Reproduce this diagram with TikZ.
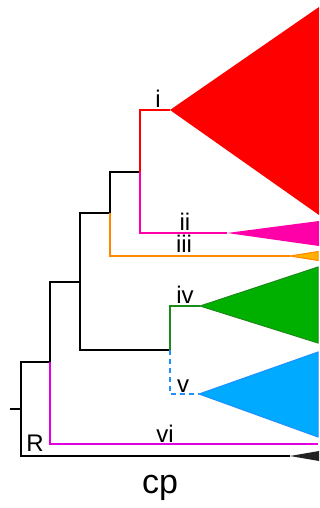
\documentclass[tikz,border=0pt]{standalone}
\usepackage{fontspec}
\setmainfont{Liberation Sans}
\definecolor{cred}{HTML}{FF0000}
\definecolor{cpink}{HTML}{FF00A8}
\definecolor{corange}{HTML}{FF8800}
\definecolor{cyellow}{HTML}{FFB000}
\definecolor{cgreenf}{HTML}{00B000}
\definecolor{cgreen}{HTML}{1A8A1A}
\definecolor{cbluef}{HTML}{00AAFF}
\definecolor{cblue}{HTML}{1E90FF}
\definecolor{cmag}{HTML}{E000E0}
\definecolor{cdark}{HTML}{222222}
\begin{document}
\begin{tikzpicture}[x=1pt,y=-1pt,
  br/.style={line width=1.8pt},
  lab/.style={anchor=base,inner sep=0pt,font=\fontsize{24}{24}\selectfont},
  clade/.style={line width=1pt}]
\useasboundingbox (0,0) rectangle (320,508);
% branch points
\coordinate (s0) at (10,409);
\coordinate (r) at (21,409);
\coordinate (n1) at (50,362);
\coordinate (n2) at (80,282);
\coordinate (n3) at (110,213);
\coordinate (n4) at (170,350);
\coordinate (n5) at (140,172);
% apices
\coordinate (ai) at (170,110);
\coordinate (aii) at (227,233);
\coordinate (aiii) at (290,256);
\coordinate (aiv) at (200,306);
\coordinate (av) at (199,394);
\coordinate (avi) at (318,444);
\coordinate (acp) at (290,456);
% triangles
\fill[cred] (ai) -- (319,7) -- (319,215) -- cycle;
\fill[cpink] (aii) -- (319,221) -- (319,246) -- cycle;
\filldraw[clade,fill=cyellow,draw=corange] (aiii) -- (318,251.5) -- (318,260.5) -- cycle;
\filldraw[clade,fill=cgreenf,draw=cgreen] (aiv) -- (318,267) -- (318,343) -- cycle;
\filldraw[clade,fill=cbluef,draw=cblue] (av) -- (318,352) -- (318,437) -- cycle;
\fill[cdark] (acp) -- (319,451) -- (319,461) -- cycle;
% branches
\draw[br] (s0) -- (r);
\draw[br] (r) |- (n1);
\draw[br] (r) |- (acp);
\draw[br] (n1) |- (n2);
\draw[br,cmag] (n1) |- (avi);
\draw[br] (n2) |- (n3);
\draw[br] (n2) |- (n4);
\draw[br] (n3) |- (n5);
\draw[br,corange] (n3) |- (aiii);
\draw[br,cred] (n5) |- (ai);
\draw[br,cpink] (n5) |- (aii);
\draw[br,cgreen] (n4) |- (aiv);
\draw[br,cblue,dashed,dash pattern=on 5pt off 4pt] (n4) |- (av);
% labels
\node[lab] (li) at (158,107) {i};
\node[lab] (lii) at (185,230) {ii};
\node[lab] (liii) at (184,252) {iii};
\node[lab] (liv) at (185,303) {iv};
\node[lab] (lv) at (183,392) {v};
\node[lab] (lvi) at (165,442) {vi};
\node[lab] (lR) at (35,451) {R};
\node[lab,font=\fontsize{34}{34}\selectfont] (lcp) at (160,493) {cp};
\end{tikzpicture}
\end{document}
